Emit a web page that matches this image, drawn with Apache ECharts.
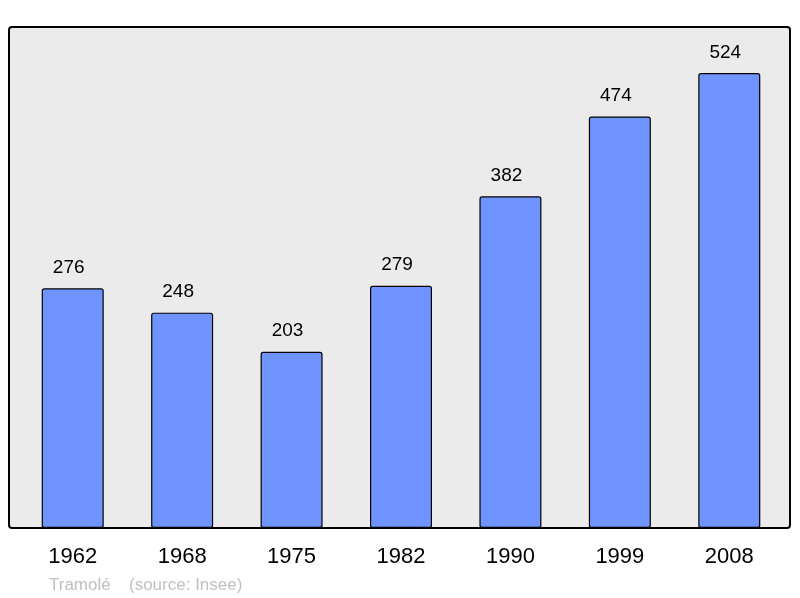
<!DOCTYPE html>
<html>
<head>
<meta charset="utf-8">
<script src="https://cdn.jsdelivr.net/npm/echarts@6/dist/echarts.min.js"></script>
<style>
  html, body { margin: 0; padding: 0; background: #fff; }
  #chart { width: 800px; height: 598px; }
</style>
</head>
<body>
<div id="chart"></div>
<script>
// census years and population
const years = ["1962", "1968", "1975", "1982", "1990", "1999", "2008"];
const population = [276, 248, 203, 279, 382, 474, 524];
const footerName = "Tramolé";
const footerSource = "(source: Insee)";

let chart = echarts.init(document.getElementById("chart"));

const footerFont = "17px Liberation Sans, Arial, sans-serif";

chart.setOption({
    backgroundColor: "#ffffff",
    animation: false,
    textStyle: { fontFamily: "Liberation Sans, Arial, sans-serif" },
    graphic: [
        {
            type: "rect",
            z: -1,
            shape: { x: 9, y: 27, width: 781, height: 501, r: 3 },
            style: { fill: "#ebebeb", stroke: "#000", lineWidth: 2 }
        },
        {
            type: "text",
            left: 49,
            top: 577,
            style: { text: footerName, fill: "#c0c0c0", font: footerFont }
        },
        {
            type: "text",
            left: 129,
            top: 577,
            style: { text: footerSource, fill: "#c0c0c0", font: footerFont }
        }
    ],
    grid: { left: 18, right: 16, top: 27, bottom: 70 },
    xAxis: {
        type: "category",
        data: years,
        axisLine: { show: false },
        axisTick: { show: false },
        axisLabel: { color: "#000", fontSize: 22, margin: 18 }
    },
    yAxis: {
        type: "value",
        min: 0,
        max: 577,
        show: false,
        splitLine: { show: false }
    },
    series: [{
        type: "bar",
        data: population,
        barWidth: 62,
        itemStyle: { color: "#7094ff", borderColor: "#000", borderWidth: 1.2, borderRadius: 2 },
        label: {
            show: true,
            position: "top",
            distance: 11,
            offset: [-4, 0],
            color: "#000",
            fontSize: 19
        }
    }]
});
</script>
</body>
</html>
